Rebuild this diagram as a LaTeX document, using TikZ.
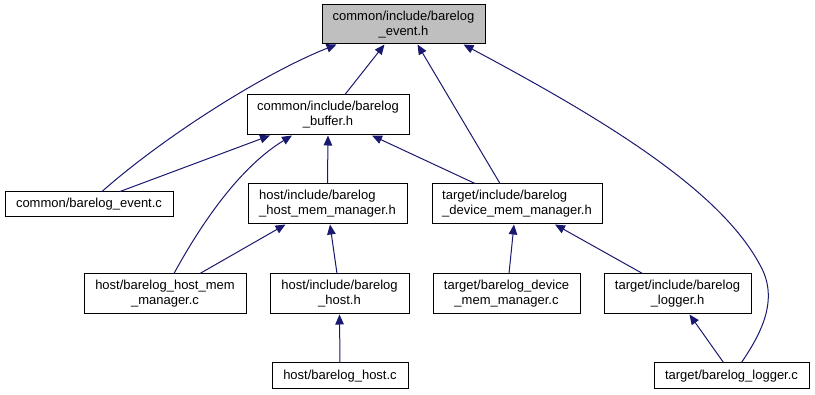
\documentclass[tikz,border=0pt]{standalone}
\usepackage{fontspec}
\setmainfont{Liberation Sans}
\usetikzlibrary{arrows.meta}
\definecolor{midnight}{RGB}{25,25,112}

\begin{document}
\begin{tikzpicture}[x=1pt,y=-1pt,
    file/.style={draw=black,line width=1pt,inner sep=0pt,align=center,
        font=\fontsize{13}{15}\selectfont},
    dep/.style={draw=midnight,line width=1pt,
        -{Triangle[length=10pt,width=8.5pt]}}]
    \useasboundingbox (0,0) rectangle (815,395);

    % Headers and sources, row by row
    \node [file,fill=black!25,minimum width=163,minimum height=39] (event_h) at (403.5,24.5) {common/include/barelog\\\_event.h};
    \node [file,minimum width=162,minimum height=40] (buffer_h) at (328,115) {common/include/barelog\\\_buffer.h};

    \node [file,minimum width=168,minimum height=25] (event_c) at (89,204.5) {common/barelog\_event.c};
    \node [file,align=left,minimum width=159,minimum height=40] (host_mm_h) at (327.5,204) {host/include/barelog\\\_host\_mem\_manager.h};
    \node [file,align=left,minimum width=170,minimum height=40] (dev_mm_h) at (517,204) {target/include/barelog\\\_device\_mem\_manager.h};

    \node [file,minimum width=162,minimum height=40] (host_mm_c) at (165,294) {host/barelog\_host\_mem\\\_manager.c};
    \node [file,minimum width=139,minimum height=40] (host_h) at (339.5,294) {host/include/barelog\\\_host.h};
    \node [file,minimum width=147,minimum height=40] (dev_mm_c) at (506.5,294) {target/barelog\_device\\\_mem\_manager.c};
    \node [file,minimum width=147,minimum height=40] (logger_h) at (677.5,294) {target/include/barelog\\\_logger.h};

    \node [file,minimum width=136,minimum height=26] (host_c) at (340,376) {host/barelog\_host.c};
    \node [file,minimum width=155,minimum height=26] (logger_c) at (731.5,376) {target/barelog\_logger.c};

    % Includes of barelog_event.h
    \draw [dep] ([xshift=13]event_c.north) .. controls (160,140) and (260,75) .. ([xshift=-67]event_h.south);
    \draw [dep] ([xshift=17]buffer_h.north) -- ([xshift=-19]event_h.south);
    \draw [dep] ([xshift=-17]dev_mm_h.north) -- ([xshift=14]event_h.south);
    \draw [dep] ([xshift=10]logger_c.north) .. controls (760,335) and (780,300) .. (760,265)
        .. controls (720,190) and (605,120) .. ([xshift=60]event_h.south);

    % Includes of barelog_buffer.h
    \draw [dep] ([xshift=31]event_c.north) -- ([xshift=-58]buffer_h.south);
    \draw [dep] ([xshift=9]host_mm_c.north) .. controls (195,235) and (235,170) .. ([xshift=-36]buffer_h.south);
    \draw [dep] (host_mm_h.north) -- (buffer_h.south);
    \draw [dep] ([xshift=-42]dev_mm_h.north) -- ([xshift=44]buffer_h.south);

    % Includes of the memory manager headers
    \draw [dep] ([xshift=35]host_mm_c.north) -- ([xshift=-42]host_mm_h.south);
    \draw [dep] ([xshift=-2.5]host_h.north) -- ([xshift=2.5]host_mm_h.south);
    \draw [dep] ([xshift=2.5]dev_mm_c.north) -- ([xshift=-3]dev_mm_h.south);
    \draw [dep] ([xshift=-35]logger_h.north) -- ([xshift=38]dev_mm_h.south);

    % Includes of barelog_host.h and barelog_logger.h
    \draw [dep] (host_c.north) -- (host_h.south);
    \draw [dep] ([xshift=-8]logger_c.north) -- ([xshift=12]logger_h.south);
\end{tikzpicture}
\end{document}
